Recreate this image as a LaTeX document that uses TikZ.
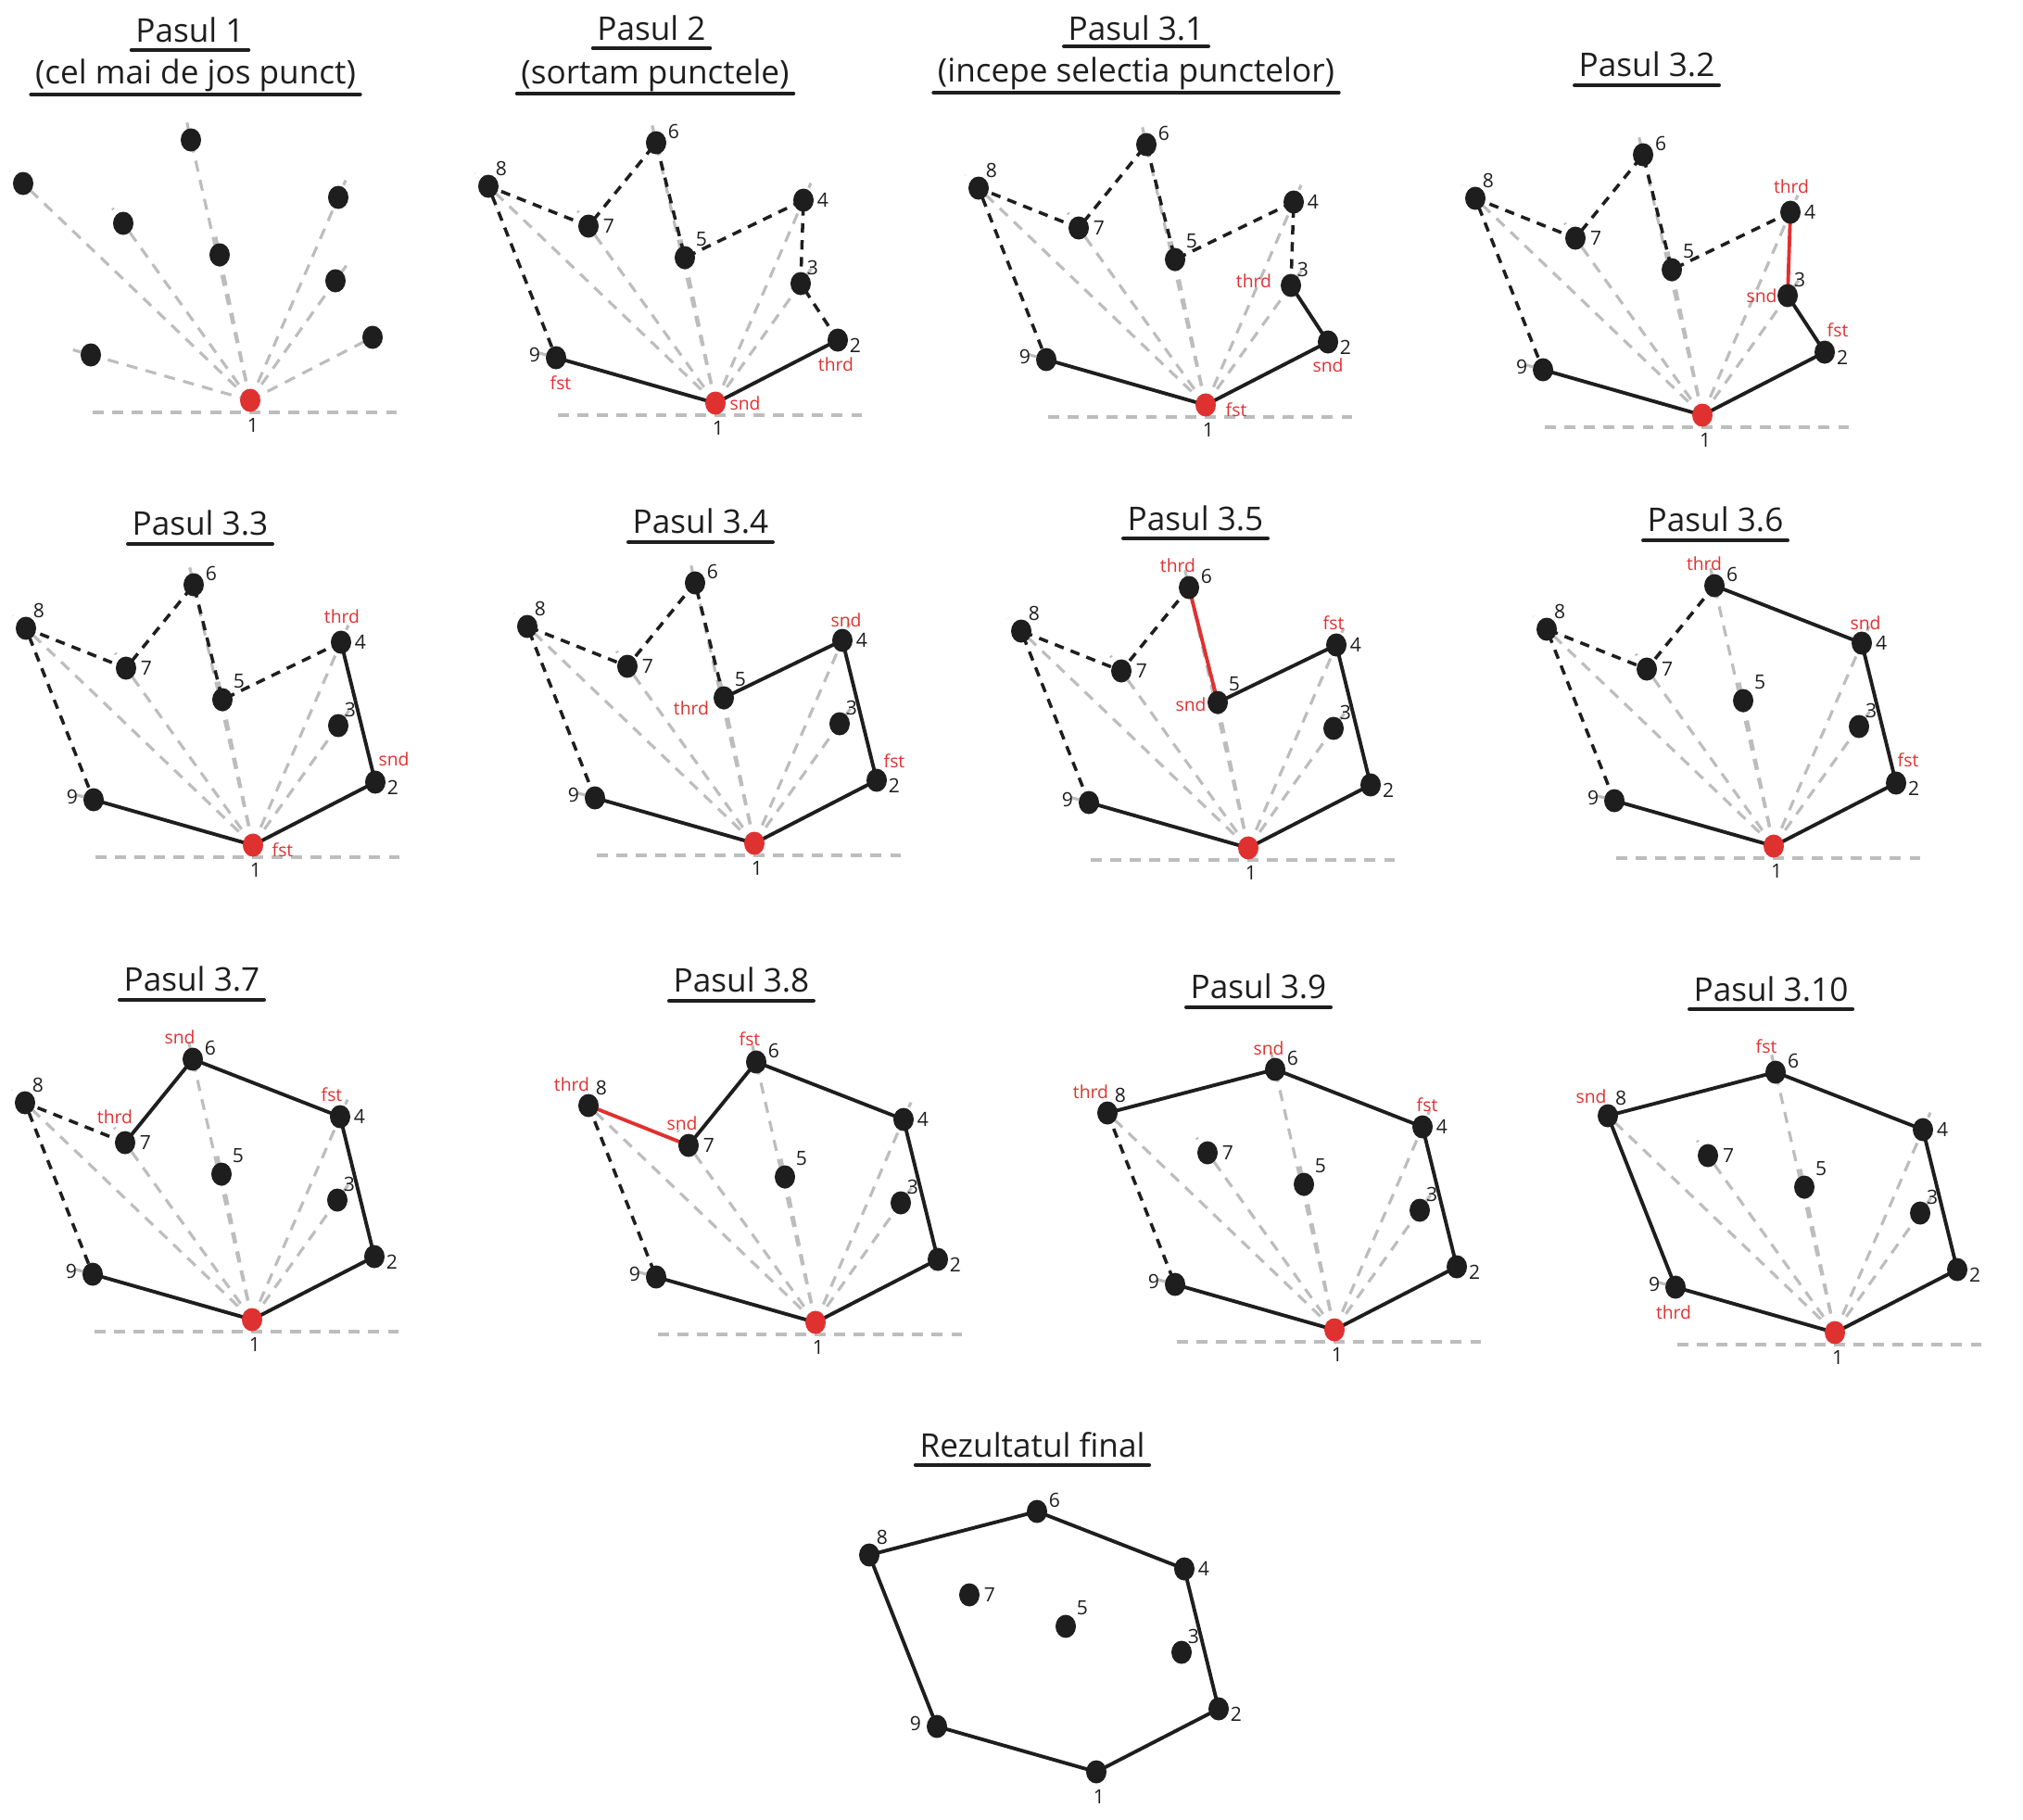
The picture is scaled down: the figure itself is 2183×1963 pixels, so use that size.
\documentclass[tikz,border=0pt]{standalone}
\usepackage{fontspec}
\setmainfont{Open Sans}
\usetikzlibrary{calc,shapes.geometric}

\definecolor{ink}{HTML}{1E1E1E}
\definecolor{exred}{HTML}{E03131}
\definecolor{raygray}{HTML}{BDBDBD}

\tikzset{
  dot/.style={ellipse, fill=ink, inner sep=0pt, minimum width=0.22cm, minimum height=0.25cm},
  num/.style={font=\fontsize{6}{7}\selectfont, text=ink, inner sep=0pt},
  tagtxt/.style={font=\fontsize{5.5}{7}\selectfont, text=exred, inner sep=0pt},
  ray/.style={draw=raygray, line width=0.9pt, dash pattern=on 3.4pt off 2.6pt},
  hull/.style={draw=ink, line width=1.1pt, line join=round},
  cand/.style={draw=ink, line width=1pt, dash pattern=on 2.9pt off 2.3pt},
  probe/.style={draw=exred, line width=1.1pt},
  headtxt/.style={font=\fontsize{10}{12}\selectfont, text=ink, inner sep=0pt, anchor=base},
  uline/.style={draw=ink, line width=1.1pt, line cap=round},
}

% the nine points, relative to point 1
\newcommand\pts{%
  \foreach \i/\px/\py in {1/0/0,2/132/-68,3/92/-129,4/95/-219,5/-33/-157,
                          6/-64/-281,7/-137/-191,8/-245/-234,9/-172/-49}
    \coordinate (p\i) at (\px,\py);}
% grey rays from point 1 and the horizontal line
\newcommand\fan{%
  \foreach \i in {2,...,9}
    \draw[ray] (p1) -- ($(p\i)!-0.2cm!(p1)$);
  \coordinate (bl) at (-170,13);
  \coordinate (br) at (165,13);
  \draw[ray] (bl) -- (br);}
\newcommand\putdots[1]{%
  \foreach \i in {2,...,9}
    \node[dot] (d\i) at (p\i) {};
  \node[dot, fill=#1] (d1) at (p1) {};}
\newcommand\nums{%
  \foreach \i/\dx/\dy in {1/3/27,2/19/6,3/13/-17,4/21/0,5/18/-20,
                          6/19/-12,7/22/0,8/14/-19,9/-23/-3}
    \node[num] (n\i) at ($(p\i)+(\dx,\dy)$) {\i};}
\newcommand\redtag[4]{\node[tagtxt] (#4) at ($(p#1)+(#2,#3)$) {#4};}
\newcommand\steptitle[5]{%
  \node[headtxt] (#1) at (#2,#3) {#4};
  \draw[uline] ($(#1.base west)+(-4,#5)$) -- ($(#1.base east)+(4,#5)$);}

\begin{document}
\begin{tikzpicture}[x=0.01cm, y=-0.01cm]
\useasboundingbox (0,0) rectangle (2183,1963);

% Pasul 1
\steptitle{t1}{205}{45}{Pasul 1}{9}
\steptitle{t1b}{211}{90}{(cel mai de jos punct)}{12}
\begin{scope}[shift={(270,432)}]
  \pts \fan
  \putdots{exred}
  \node[num] (n1) at ($(p1)+(3,27)$) {1};
\end{scope}

% Pasul 2
\steptitle{t2}{703}{43}{Pasul 2}{9}
\steptitle{t2b}{707}{90}{(sortam punctele)}{11}
\begin{scope}[shift={(772,435)}]
  \pts \fan
  \draw[hull] (p9) -- (p1) -- (p2);
  \draw[cand] (p2) -- (p3) -- (p4) -- (p5) -- (p6) -- (p7) -- (p8) -- (p9);
  \putdots{exred} \nums
  \redtag{9}{5}{27}{fst}
  \redtag{1}{32}{0}{snd}
  \redtag{2}{-2}{26}{thrd}
\end{scope}

% Pasul 3.1
\steptitle{t31}{1226}{43}{Pasul 3.1}{7}
\steptitle{t31b}{1226}{88}{(incepe selectia punctelor)}{12}
\begin{scope}[shift={(1301,437)}]
  \pts \fan
  \draw[hull] (p9) -- (p1) -- (p2) -- (p3);
  \draw[cand] (p3) -- (p4) -- (p5) -- (p6) -- (p7) -- (p8) -- (p9);
  \putdots{exred} \nums
  \redtag{1}{33}{5}{fst}
  \redtag{2}{0}{25}{snd}
  \redtag{3}{-40}{-5}{thrd}
\end{scope}

% Pasul 3.2
\steptitle{t32}{1777}{82}{Pasul 3.2}{10}
\begin{scope}[shift={(1837,448)}]
  \pts \fan
  \draw[hull] (p9) -- (p1) -- (p2) -- (p3);
  \draw[probe] (p3) -- (p4);
  \draw[cand] (p4) -- (p5) -- (p6) -- (p7) -- (p8) -- (p9);
  \putdots{exred} \nums
  \redtag{2}{14}{-24}{fst}
  \redtag{3}{-28}{0}{snd}
  \redtag{4}{1}{-28}{thrd}
\end{scope}

% Pasul 3.3
\steptitle{t33}{216}{577}{Pasul 3.3}{10}
\begin{scope}[shift={(273,912)}]
  \pts \fan
  \draw[hull] (p9) -- (p1) -- (p2) -- (p4);
  \draw[cand] (p4) -- (p5) -- (p6) -- (p7) -- (p8) -- (p9);
  \putdots{exred} \nums
  \redtag{1}{32}{5}{fst}
  \redtag{2}{20}{-25}{snd}
  \redtag{4}{1}{-28}{thrd}
\end{scope}

% Pasul 3.4
\steptitle{t34}{756}{575}{Pasul 3.4}{10}
\begin{scope}[shift={(814,910)}]
  \pts \fan
  \draw[hull] (p9) -- (p1) -- (p2) -- (p4) -- (p5);
  \draw[cand] (p5) -- (p6) -- (p7) -- (p8) -- (p9);
  \putdots{exred} \nums
  \redtag{2}{19}{-21}{fst}
  \redtag{4}{4}{-22}{snd}
  \redtag{5}{-35}{11}{thrd}
\end{scope}

% Pasul 3.5
\steptitle{t35}{1290}{572}{Pasul 3.5}{9}
\begin{scope}[shift={(1347,915)}]
  \pts \fan
  \draw[hull] (p9) -- (p1) -- (p2) -- (p4) -- (p5);
  \draw[probe] (p5) -- (p6);
  \draw[cand] (p6) -- (p7) -- (p8) -- (p9);
  \putdots{exred} \nums
  \redtag{4}{-3}{-24}{fst}
  \redtag{5}{-29}{2}{snd}
  \redtag{6}{-12}{-24}{thrd}
\end{scope}

% Pasul 3.6
\steptitle{t36}{1851}{573}{Pasul 3.6}{10}
\begin{scope}[shift={(1914,913)}]
  \pts \fan
  \draw[hull] (p9) -- (p1) -- (p2) -- (p4) -- (p6);
  \draw[cand] (p6) -- (p7) -- (p8) -- (p9);
  \putdots{exred} \nums
  \redtag{2}{13}{-25}{fst}
  \redtag{4}{4}{-22}{snd}
  \redtag{6}{-11}{-24}{thrd}
\end{scope}

% Pasul 3.7
\steptitle{t37}{207}{1069}{Pasul 3.7}{10}
\begin{scope}[shift={(272,1424)}]
  \pts \fan
  \draw[hull] (p9) -- (p1) -- (p2) -- (p4) -- (p6) -- (p7);
  \draw[cand] (p7) -- (p8) -- (p9);
  \putdots{exred} \nums
  \redtag{4}{-9}{-24}{fst}
  \redtag{6}{-14}{-24}{snd}
  \redtag{7}{-11}{-28}{thrd}
\end{scope}

% Pasul 3.8
\steptitle{t38}{800}{1070}{Pasul 3.8}{10}
\begin{scope}[shift={(880,1427)}]
  \pts \fan
  \draw[hull] (p9) -- (p1) -- (p2) -- (p4) -- (p6) -- (p7);
  \draw[probe] (p7) -- (p8);
  \draw[cand] (p8) -- (p9);
  \putdots{exred} \nums
  \redtag{6}{-7}{-25}{fst}
  \redtag{7}{-7}{-24}{snd}
  \redtag{8}{-18}{-23}{thrd}
\end{scope}

% Pasul 3.9
\steptitle{t39}{1358}{1077}{Pasul 3.9}{10}
\begin{scope}[shift={(1440,1435)}]
  \pts \fan
  \draw[hull] (p9) -- (p1) -- (p2) -- (p4) -- (p6) -- (p8);
  \draw[cand] (p8) -- (p9);
  \putdots{exred} \nums
  \redtag{4}{5}{-24}{fst}
  \redtag{6}{-7}{-23}{snd}
  \redtag{8}{-18}{-23}{thrd}
\end{scope}

% Pasul 3.10
\steptitle{t310}{1911}{1080}{Pasul 3.10}{9}
\begin{scope}[shift={(1980,1438)}]
  \pts \fan
  \draw[hull] (p9) -- (p1) -- (p2) -- (p4) -- (p6) -- (p8) -- (p9);
  \putdots{exred} \nums
  \redtag{6}{-10}{-28}{fst}
  \redtag{8}{-18}{-21}{snd}
  \redtag{9}{-2}{27}{thrd}
\end{scope}

% Rezultatul final
\steptitle{tfin}{1114}{1572}{Rezultatul final}{9}
\begin{scope}[shift={(1183,1912)}]
  \pts
  \draw[hull] (p1) -- (p2) -- (p4) -- (p6) -- (p8) -- (p9) -- cycle;
  \putdots{ink} \nums
\end{scope}
\end{tikzpicture}
\end{document}
